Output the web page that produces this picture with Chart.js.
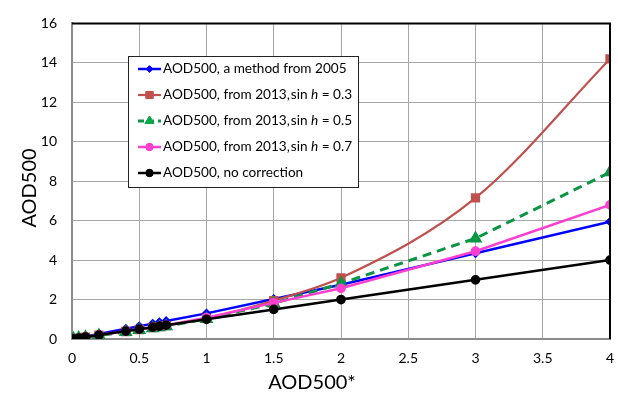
<!DOCTYPE html>
<html>
<head>
<meta charset="utf-8">
<script src="https://cdn.jsdelivr.net/npm/chart.js@4/dist/chart.umd.min.js"></script>
<style>
  html, body { margin: 0; padding: 0; background: #fff; }
  #wrap { width: 618px; height: 396px; position: relative; }
</style>
</head>
<body>
<div id="wrap"><canvas id="c" width="618" height="396"></canvas></div>
<script>
const xValues = [0.01, 0.05, 0.1, 0.2, 0.4, 0.5, 0.6, 0.65, 0.7, 1, 1.5, 2, 3, 4];
const blueValues  = [0.013, 0.065, 0.13, 0.26, 0.52, 0.65, 0.78, 0.85, 0.91, 1.3, 2.03, 2.75, 4.35, 5.95];
const redValues   = [0.01, 0.05, 0.1, 0.19, 0.38, 0.48, 0.58, 0.63, 0.68, 1.05, 1.95, 3.1, 7.15, 14.2];
const greenValues = [0.009, 0.045, 0.09, 0.18, 0.36, 0.45, 0.55, 0.6, 0.65, 1.02, 1.8, 2.82, 5.1, 8.45];
const pinkValues  = [0.01, 0.05, 0.1, 0.2, 0.4, 0.5, 0.6, 0.65, 0.7, 1.08, 1.83, 2.57, 4.45, 6.8];
const blackValues = [0.01, 0.05, 0.1, 0.2, 0.4, 0.5, 0.6, 0.65, 0.7, 1, 1.5, 2, 3, 4];
const xTickLabels = ['0', '0.5', '1', '1.5', '2', '2.5', '3', '3.5', '4'];
const yTickLabels = ['0', '2', '4', '6', '8', '10', '12', '14', '16'];
const seriesNames = [
  ['AOD500, a method from 2005'],
  ['AOD500, from 2013,', 'sin ', 'h', ' = 0.3'],
  ['AOD500, from 2013,', 'sin ', 'h', ' = 0.5'],
  ['AOD500, from 2013,', 'sin ', 'h', ' = 0.7'],
  ['AOD500, no correction']
];
const xTitle = 'AOD500*';
const yTitle = 'AOD500';

const FONT = 'Lato, "Open Sans", sans-serif';
const pts = v => xValues.map((x, i) => ({ x: x, y: v[i] }));

const datasets = [
  { label: seriesNames[0].join(''), data: pts(blueValues), borderColor: '#0000FF', backgroundColor: '#0000FF',
    borderWidth: 2.5, pointStyle: 'rectRot', pointRadius: 3.2, order: 5 },
  { label: seriesNames[1].join(''), data: pts(redValues), borderColor: '#C0504D', backgroundColor: '#C0504D',
    borderWidth: 2.2, pointStyle: 'rect', pointRadius: 5, cubicInterpolationMode: 'monotone', order: 4 },
  { label: seriesNames[2].join(''), data: pts(greenValues), borderColor: '#0B9444', backgroundColor: '#0BA84A',
    borderWidth: 3, borderDash: [9, 6], pointStyle: 'triangle', pointRadius: 5, order: 3 },
  { label: seriesNames[3].join(''), data: pts(pinkValues), borderColor: '#FF3FCF', backgroundColor: '#FF3FCF',
    borderWidth: 2.5, pointStyle: 'circle', pointRadius: 3.6, order: 2 },
  { label: seriesNames[4].join(''), data: pts(blackValues), borderColor: '#000000', backgroundColor: '#000000',
    borderWidth: 2.5, pointStyle: 'circle', pointRadius: 3.6, order: 1 }
];

function drawMarker(ctx, ds, x, y) {
  ctx.save();
  ctx.fillStyle = ds.backgroundColor;
  ctx.strokeStyle = ds.backgroundColor;
  ctx.lineWidth = 1;
  Chart.helpers.drawPoint(ctx, { pointStyle: ds.pointStyle, radius: ds.pointRadius, rotation: 0, borderWidth: 1 }, x, y);
  ctx.fill();
  ctx.stroke();
  ctx.restore();
}

const decorPlugin = {
  id: 'decor',
  afterDraw(chart) {
    const ctx = chart.ctx;
    const a = chart.chartArea;
    ctx.save();
    ctx.strokeStyle = '#000';
    ctx.lineWidth = 2;
    ctx.beginPath();
    ctx.moveTo(a.left, a.top);
    ctx.lineTo(a.right, a.top);
    ctx.lineTo(a.right, a.bottom);
    ctx.stroke();

    ctx.fillStyle = '#000';
    ctx.font = '20px ' + FONT;
    ctx.textAlign = 'center';
    ctx.textBaseline = 'middle';
    ctx.fillText(xTitle, 312, 383);
    ctx.save();
    ctx.translate(30, 188);
    ctx.rotate(-Math.PI / 2);
    ctx.fillText(yTitle, 0, 0);
    ctx.restore();

    const bx = 128, by = 56, bw = 230, bh = 131;
    ctx.fillStyle = '#fff';
    ctx.fillRect(bx, by, bw, bh);
    ctx.strokeStyle = '#222';
    ctx.lineWidth = 1;
    ctx.strokeRect(bx + 0.5, by + 0.5, bw, bh);
    const rows = [69, 95, 121, 147, 173];
    chart.data.datasets.forEach((ds, i) => {
      const y = rows[i];
      ctx.save();
      ctx.strokeStyle = ds.borderColor;
      ctx.lineWidth = ds.borderWidth;
      if (ds.borderDash) ctx.setLineDash([6, 4]);
      ctx.beginPath();
      ctx.moveTo(138, y);
      ctx.lineTo(161, y);
      ctx.stroke();
      ctx.restore();
      drawMarker(ctx, ds, 149.5, y);
      ctx.fillStyle = '#000';
      ctx.textAlign = 'left';
      ctx.textBaseline = 'middle';
      let tx = 163;
      const parts = seriesNames[i];
      parts.forEach((p, j) => {
        ctx.font = (j === 2 ? 'italic ' : '') + '13.6px ' + FONT;
        if (j === 1) tx += 1;
        ctx.fillText(p, tx, y);
        tx += ctx.measureText(p).width;
      });
    });
    ctx.restore();
  }
};

new Chart(document.getElementById('c'), {
  type: 'line',
  data: { datasets: datasets },
  plugins: [decorPlugin],
  options: {
    responsive: false,
    animation: false,
    devicePixelRatio: 1,
    layout: { padding: { top: 13, right: 0, left: 0, bottom: 0 } },
    plugins: { legend: { display: false }, tooltip: { enabled: false } },
    elements: { line: { tension: 0 } },
    scales: {
      x: {
        type: 'linear', min: 0, max: 4,
        afterFit(s) { s.height = 57; s.paddingRight = 7; s.paddingLeft = 0; },
        afterBuildTicks(s) { s.ticks = xTickLabels.map(v => ({ value: parseFloat(v) })); },
        ticks: { callback: (v, i) => xTickLabels[i], font: { family: FONT, size: 14 }, color: '#000', padding: 11, maxRotation: 0, autoSkip: false },
        grid: { color: '#A6A6A6', lineWidth: 1, drawTicks: false },
        border: { color: '#8C8C8C', width: 2 }
      },
      y: {
        type: 'linear', min: 0, max: 16,
        afterFit(s) { s.width = 72; },
        afterBuildTicks(s) { s.ticks = yTickLabels.map(v => ({ value: parseFloat(v) })); },
        ticks: { callback: (v, i) => yTickLabels[i], font: { family: FONT, size: 14 }, color: '#000', padding: 15 },
        grid: { color: '#A6A6A6', lineWidth: 1, drawTicks: false },
        border: { color: '#8C8C8C', width: 2 }
      }
    }
  }
});
</script>
</body>
</html>
